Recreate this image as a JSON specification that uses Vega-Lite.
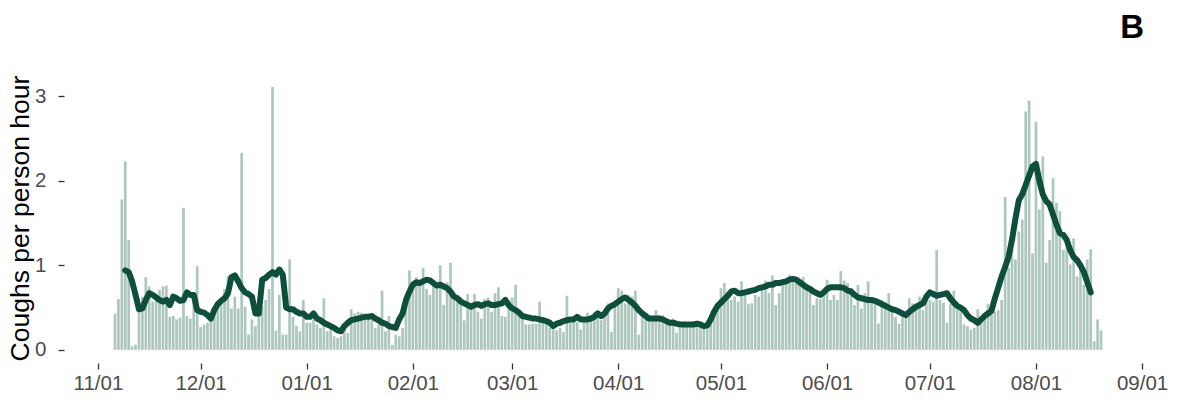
{
  "$schema": "https://vega.github.io/schema/vega-lite/v6.json",
  "autosize": {"type": "none"},
  "width": 1088,
  "height": 290,
  "padding": {"left": 64, "top": 73, "right": 31, "bottom": 39},
  "background": "white",
  "config": {
    "view": {"stroke": null},
    "font": "Liberation Sans",
    "scale": {"continuousPadding": 0}
  },
  "title": {
    "text": "B",
    "anchor": "end",
    "frame": "group",
    "font": "Liberation Sans",
    "fontSize": 33,
    "fontWeight": "bold",
    "color": "#000000",
    "baseline": "alphabetic",
    "offset": 35,
    "dx": -8,
    "dy": 33
  },
  "data": {
    "values": [
      {"date": "2019-11-06", "coughs": 0.43},
      {"date": "2019-11-07", "coughs": 0.60},
      {"date": "2019-11-08", "coughs": 1.78},
      {"date": "2019-11-09", "coughs": 2.23, "avg": 0.94},
      {"date": "2019-11-10", "coughs": 1.30, "avg": 0.92},
      {"date": "2019-11-11", "coughs": 0.04, "avg": 0.81},
      {"date": "2019-11-12", "coughs": 0.06, "avg": 0.65},
      {"date": "2019-11-13", "coughs": 0.47, "avg": 0.48},
      {"date": "2019-11-14", "coughs": 0.63, "avg": 0.49},
      {"date": "2019-11-15", "coughs": 0.86, "avg": 0.59},
      {"date": "2019-11-16", "coughs": 0.75, "avg": 0.67},
      {"date": "2019-11-17", "coughs": 0.57, "avg": 0.65},
      {"date": "2019-11-18", "coughs": 0.64, "avg": 0.62},
      {"date": "2019-11-19", "coughs": 0.71, "avg": 0.59},
      {"date": "2019-11-20", "coughs": 0.75, "avg": 0.57},
      {"date": "2019-11-21", "coughs": 0.76, "avg": 0.59},
      {"date": "2019-11-22", "coughs": 0.39, "avg": 0.53},
      {"date": "2019-11-23", "coughs": 0.40, "avg": 0.63},
      {"date": "2019-11-24", "coughs": 0.36, "avg": 0.61},
      {"date": "2019-11-25", "coughs": 0.38, "avg": 0.58},
      {"date": "2019-11-26", "coughs": 1.68, "avg": 0.59},
      {"date": "2019-11-27", "coughs": 0.40, "avg": 0.68},
      {"date": "2019-11-28", "coughs": 0.37, "avg": 0.65},
      {"date": "2019-11-29", "coughs": 0.60, "avg": 0.65},
      {"date": "2019-11-30", "coughs": 0.99, "avg": 0.47},
      {"date": "2019-12-01", "coughs": 0.27, "avg": 0.45},
      {"date": "2019-12-02", "coughs": 0.30, "avg": 0.44},
      {"date": "2019-12-03", "coughs": 0.32, "avg": 0.41},
      {"date": "2019-12-04", "coughs": 0.38, "avg": 0.37},
      {"date": "2019-12-05", "coughs": 0.45, "avg": 0.47},
      {"date": "2019-12-06", "coughs": 0.50, "avg": 0.54},
      {"date": "2019-12-07", "coughs": 0.58, "avg": 0.58},
      {"date": "2019-12-08", "coughs": 0.72, "avg": 0.61},
      {"date": "2019-12-09", "coughs": 0.87, "avg": 0.67},
      {"date": "2019-12-10", "coughs": 0.49, "avg": 0.86},
      {"date": "2019-12-11", "coughs": 0.63, "avg": 0.88},
      {"date": "2019-12-12", "coughs": 0.49, "avg": 0.81},
      {"date": "2019-12-13", "coughs": 2.33, "avg": 0.73},
      {"date": "2019-12-14", "coughs": 0.51, "avg": 0.68},
      {"date": "2019-12-15", "coughs": 0.18, "avg": 0.66},
      {"date": "2019-12-16", "coughs": 0.36, "avg": 0.63},
      {"date": "2019-12-17", "coughs": 0.28, "avg": 0.43},
      {"date": "2019-12-18", "coughs": 0.47, "avg": 0.43},
      {"date": "2019-12-19", "coughs": 0.51, "avg": 0.83},
      {"date": "2019-12-20", "coughs": 0.59, "avg": 0.85},
      {"date": "2019-12-21", "coughs": 0.72, "avg": 0.89},
      {"date": "2019-12-22", "coughs": 3.11, "avg": 0.92},
      {"date": "2019-12-23", "coughs": 0.23, "avg": 0.89},
      {"date": "2019-12-24", "coughs": 0.65, "avg": 0.95},
      {"date": "2019-12-25", "coughs": 0.18, "avg": 0.89},
      {"date": "2019-12-26", "coughs": 0.18, "avg": 0.50},
      {"date": "2019-12-27", "coughs": 1.07, "avg": 0.48},
      {"date": "2019-12-28", "coughs": 0.39, "avg": 0.48},
      {"date": "2019-12-29", "coughs": 0.28, "avg": 0.45},
      {"date": "2019-12-30", "coughs": 0.22, "avg": 0.43},
      {"date": "2019-12-31", "coughs": 0.59, "avg": 0.43},
      {"date": "2020-01-01", "coughs": 0.32, "avg": 0.39},
      {"date": "2020-01-02", "coughs": 0.32, "avg": 0.39},
      {"date": "2020-01-03", "coughs": 0.36, "avg": 0.43},
      {"date": "2020-01-04", "coughs": 0.30, "avg": 0.37},
      {"date": "2020-01-05", "coughs": 0.26, "avg": 0.35},
      {"date": "2020-01-06", "coughs": 0.61, "avg": 0.32},
      {"date": "2020-01-07", "coughs": 0.22, "avg": 0.30},
      {"date": "2020-01-08", "coughs": 0.26, "avg": 0.28},
      {"date": "2020-01-09", "coughs": 0.16, "avg": 0.26},
      {"date": "2020-01-10", "coughs": 0.14, "avg": 0.23},
      {"date": "2020-01-11", "coughs": 0.16, "avg": 0.22},
      {"date": "2020-01-12", "coughs": 0.26, "avg": 0.28},
      {"date": "2020-01-13", "coughs": 0.20, "avg": 0.32},
      {"date": "2020-01-14", "coughs": 0.48, "avg": 0.35},
      {"date": "2020-01-15", "coughs": 0.43, "avg": 0.36},
      {"date": "2020-01-16", "coughs": 0.45, "avg": 0.37},
      {"date": "2020-01-17", "coughs": 0.44, "avg": 0.38},
      {"date": "2020-01-18", "coughs": 0.41, "avg": 0.39},
      {"date": "2020-01-19", "coughs": 0.39, "avg": 0.39},
      {"date": "2020-01-20", "coughs": 0.35, "avg": 0.40},
      {"date": "2020-01-21", "coughs": 0.26, "avg": 0.37},
      {"date": "2020-01-22", "coughs": 0.30, "avg": 0.35},
      {"date": "2020-01-23", "coughs": 0.70, "avg": 0.32},
      {"date": "2020-01-24", "coughs": 0.22, "avg": 0.31},
      {"date": "2020-01-25", "coughs": 0.40, "avg": 0.28},
      {"date": "2020-01-26", "coughs": 0.06, "avg": 0.27},
      {"date": "2020-01-27", "coughs": 0.18, "avg": 0.26},
      {"date": "2020-01-28", "coughs": 0.16, "avg": 0.36},
      {"date": "2020-01-29", "coughs": 0.26, "avg": 0.43},
      {"date": "2020-01-30", "coughs": 0.53, "avg": 0.59},
      {"date": "2020-01-31", "coughs": 0.94, "avg": 0.69},
      {"date": "2020-02-01", "coughs": 0.75, "avg": 0.77},
      {"date": "2020-02-02", "coughs": 0.86, "avg": 0.80},
      {"date": "2020-02-03", "coughs": 0.80, "avg": 0.79},
      {"date": "2020-02-04", "coughs": 0.97, "avg": 0.81},
      {"date": "2020-02-05", "coughs": 0.72, "avg": 0.83},
      {"date": "2020-02-06", "coughs": 0.65, "avg": 0.82},
      {"date": "2020-02-07", "coughs": 0.83, "avg": 0.79},
      {"date": "2020-02-08", "coughs": 0.78, "avg": 0.76},
      {"date": "2020-02-09", "coughs": 1.00, "avg": 0.77},
      {"date": "2020-02-10", "coughs": 0.53, "avg": 0.75},
      {"date": "2020-02-11", "coughs": 0.80, "avg": 0.73},
      {"date": "2020-02-12", "coughs": 1.03, "avg": 0.69},
      {"date": "2020-02-13", "coughs": 0.59, "avg": 0.63},
      {"date": "2020-02-14", "coughs": 0.60, "avg": 0.61},
      {"date": "2020-02-15", "coughs": 0.62, "avg": 0.57},
      {"date": "2020-02-16", "coughs": 0.35, "avg": 0.55},
      {"date": "2020-02-17", "coughs": 0.66, "avg": 0.53},
      {"date": "2020-02-18", "coughs": 0.55, "avg": 0.51},
      {"date": "2020-02-19", "coughs": 0.66, "avg": 0.53},
      {"date": "2020-02-20", "coughs": 0.45, "avg": 0.54},
      {"date": "2020-02-21", "coughs": 0.37, "avg": 0.52},
      {"date": "2020-02-22", "coughs": 0.60, "avg": 0.54},
      {"date": "2020-02-23", "coughs": 0.62, "avg": 0.55},
      {"date": "2020-02-24", "coughs": 0.45, "avg": 0.53},
      {"date": "2020-02-25", "coughs": 0.67, "avg": 0.53},
      {"date": "2020-02-26", "coughs": 0.74, "avg": 0.54},
      {"date": "2020-02-27", "coughs": 0.40, "avg": 0.55},
      {"date": "2020-02-28", "coughs": 0.39, "avg": 0.59},
      {"date": "2020-02-29", "coughs": 0.58, "avg": 0.53},
      {"date": "2020-03-01", "coughs": 0.62, "avg": 0.49},
      {"date": "2020-03-02", "coughs": 0.77, "avg": 0.47},
      {"date": "2020-03-03", "coughs": 0.47, "avg": 0.44},
      {"date": "2020-03-04", "coughs": 0.43, "avg": 0.40},
      {"date": "2020-03-05", "coughs": 0.30, "avg": 0.39},
      {"date": "2020-03-06", "coughs": 0.30, "avg": 0.38},
      {"date": "2020-03-07", "coughs": 0.31, "avg": 0.37},
      {"date": "2020-03-08", "coughs": 0.31, "avg": 0.37},
      {"date": "2020-03-09", "coughs": 0.57, "avg": 0.36},
      {"date": "2020-03-10", "coughs": 0.31, "avg": 0.35},
      {"date": "2020-03-11", "coughs": 0.32, "avg": 0.34},
      {"date": "2020-03-12", "coughs": 0.26, "avg": 0.32},
      {"date": "2020-03-13", "coughs": 0.24, "avg": 0.28},
      {"date": "2020-03-14", "coughs": 0.23, "avg": 0.31},
      {"date": "2020-03-15", "coughs": 0.26, "avg": 0.32},
      {"date": "2020-03-16", "coughs": 0.21, "avg": 0.34},
      {"date": "2020-03-17", "coughs": 0.64, "avg": 0.35},
      {"date": "2020-03-18", "coughs": 0.32, "avg": 0.36},
      {"date": "2020-03-19", "coughs": 0.35, "avg": 0.36},
      {"date": "2020-03-20", "coughs": 0.33, "avg": 0.39},
      {"date": "2020-03-21", "coughs": 0.24, "avg": 0.36},
      {"date": "2020-03-22", "coughs": 0.37, "avg": 0.36},
      {"date": "2020-03-23", "coughs": 0.44, "avg": 0.36},
      {"date": "2020-03-24", "coughs": 0.40, "avg": 0.37},
      {"date": "2020-03-25", "coughs": 0.45, "avg": 0.39},
      {"date": "2020-03-26", "coughs": 0.41, "avg": 0.43},
      {"date": "2020-03-27", "coughs": 0.35, "avg": 0.40},
      {"date": "2020-03-28", "coughs": 0.47, "avg": 0.43},
      {"date": "2020-03-29", "coughs": 0.55, "avg": 0.49},
      {"date": "2020-03-30", "coughs": 0.21, "avg": 0.52},
      {"date": "2020-03-31", "coughs": 0.51, "avg": 0.54},
      {"date": "2020-04-01", "coughs": 0.73, "avg": 0.57},
      {"date": "2020-04-02", "coughs": 0.70, "avg": 0.60},
      {"date": "2020-04-03", "coughs": 0.55, "avg": 0.62},
      {"date": "2020-04-04", "coughs": 0.65, "avg": 0.59},
      {"date": "2020-04-05", "coughs": 0.63, "avg": 0.56},
      {"date": "2020-04-06", "coughs": 0.70, "avg": 0.52},
      {"date": "2020-04-07", "coughs": 0.18, "avg": 0.47},
      {"date": "2020-04-08", "coughs": 0.41, "avg": 0.43},
      {"date": "2020-04-09", "coughs": 0.39, "avg": 0.40},
      {"date": "2020-04-10", "coughs": 0.37, "avg": 0.37},
      {"date": "2020-04-11", "coughs": 0.39, "avg": 0.37},
      {"date": "2020-04-12", "coughs": 0.47, "avg": 0.37},
      {"date": "2020-04-13", "coughs": 0.41, "avg": 0.37},
      {"date": "2020-04-14", "coughs": 0.41, "avg": 0.36},
      {"date": "2020-04-15", "coughs": 0.34, "avg": 0.34},
      {"date": "2020-04-16", "coughs": 0.32, "avg": 0.32},
      {"date": "2020-04-17", "coughs": 0.37, "avg": 0.32},
      {"date": "2020-04-18", "coughs": 0.20, "avg": 0.31},
      {"date": "2020-04-19", "coughs": 0.26, "avg": 0.30},
      {"date": "2020-04-20", "coughs": 0.28, "avg": 0.30},
      {"date": "2020-04-21", "coughs": 0.32, "avg": 0.30},
      {"date": "2020-04-22", "coughs": 0.30, "avg": 0.30},
      {"date": "2020-04-23", "coughs": 0.32, "avg": 0.30},
      {"date": "2020-04-24", "coughs": 0.30, "avg": 0.31},
      {"date": "2020-04-25", "coughs": 0.28, "avg": 0.30},
      {"date": "2020-04-26", "coughs": 0.26, "avg": 0.28},
      {"date": "2020-04-27", "coughs": 0.26, "avg": 0.29},
      {"date": "2020-04-28", "coughs": 0.32, "avg": 0.36},
      {"date": "2020-04-29", "coughs": 0.47, "avg": 0.45},
      {"date": "2020-04-30", "coughs": 0.55, "avg": 0.52},
      {"date": "2020-05-01", "coughs": 0.73, "avg": 0.56},
      {"date": "2020-05-02", "coughs": 0.79, "avg": 0.60},
      {"date": "2020-05-03", "coughs": 0.69, "avg": 0.64},
      {"date": "2020-05-04", "coughs": 0.59, "avg": 0.69},
      {"date": "2020-05-05", "coughs": 0.63, "avg": 0.70},
      {"date": "2020-05-06", "coughs": 0.57, "avg": 0.67},
      {"date": "2020-05-07", "coughs": 0.81, "avg": 0.67},
      {"date": "2020-05-08", "coughs": 0.71, "avg": 0.68},
      {"date": "2020-05-09", "coughs": 0.54, "avg": 0.69},
      {"date": "2020-05-10", "coughs": 0.55, "avg": 0.70},
      {"date": "2020-05-11", "coughs": 0.65, "avg": 0.71},
      {"date": "2020-05-12", "coughs": 0.63, "avg": 0.73},
      {"date": "2020-05-13", "coughs": 0.74, "avg": 0.74},
      {"date": "2020-05-14", "coughs": 0.82, "avg": 0.75},
      {"date": "2020-05-15", "coughs": 0.67, "avg": 0.77},
      {"date": "2020-05-16", "coughs": 0.88, "avg": 0.77},
      {"date": "2020-05-17", "coughs": 0.53, "avg": 0.79},
      {"date": "2020-05-18", "coughs": 0.67, "avg": 0.79},
      {"date": "2020-05-19", "coughs": 0.76, "avg": 0.80},
      {"date": "2020-05-20", "coughs": 0.79, "avg": 0.81},
      {"date": "2020-05-21", "coughs": 0.89, "avg": 0.83},
      {"date": "2020-05-22", "coughs": 0.83, "avg": 0.84},
      {"date": "2020-05-23", "coughs": 0.81, "avg": 0.83},
      {"date": "2020-05-24", "coughs": 0.80, "avg": 0.80},
      {"date": "2020-05-25", "coughs": 0.86, "avg": 0.77},
      {"date": "2020-05-26", "coughs": 0.77, "avg": 0.74},
      {"date": "2020-05-27", "coughs": 0.74, "avg": 0.72},
      {"date": "2020-05-28", "coughs": 0.53, "avg": 0.69},
      {"date": "2020-05-29", "coughs": 0.61, "avg": 0.67},
      {"date": "2020-05-30", "coughs": 0.60, "avg": 0.65},
      {"date": "2020-05-31", "coughs": 0.65, "avg": 0.68},
      {"date": "2020-06-01", "coughs": 0.83, "avg": 0.72},
      {"date": "2020-06-02", "coughs": 0.59, "avg": 0.74},
      {"date": "2020-06-03", "coughs": 0.65, "avg": 0.74},
      {"date": "2020-06-04", "coughs": 0.59, "avg": 0.74},
      {"date": "2020-06-05", "coughs": 0.93, "avg": 0.74},
      {"date": "2020-06-06", "coughs": 0.82, "avg": 0.73},
      {"date": "2020-06-07", "coughs": 0.79, "avg": 0.70},
      {"date": "2020-06-08", "coughs": 0.73, "avg": 0.69},
      {"date": "2020-06-09", "coughs": 0.53, "avg": 0.65},
      {"date": "2020-06-10", "coughs": 0.77, "avg": 0.62},
      {"date": "2020-06-11", "coughs": 0.49, "avg": 0.61},
      {"date": "2020-06-12", "coughs": 0.67, "avg": 0.60},
      {"date": "2020-06-13", "coughs": 0.81, "avg": 0.59},
      {"date": "2020-06-14", "coughs": 0.59, "avg": 0.59},
      {"date": "2020-06-15", "coughs": 0.61, "avg": 0.58},
      {"date": "2020-06-16", "coughs": 0.31, "avg": 0.56},
      {"date": "2020-06-17", "coughs": 0.59, "avg": 0.54},
      {"date": "2020-06-18", "coughs": 0.57, "avg": 0.52},
      {"date": "2020-06-19", "coughs": 0.67, "avg": 0.50},
      {"date": "2020-06-20", "coughs": 0.47, "avg": 0.48},
      {"date": "2020-06-21", "coughs": 0.39, "avg": 0.47},
      {"date": "2020-06-22", "coughs": 0.31, "avg": 0.45},
      {"date": "2020-06-23", "coughs": 0.41, "avg": 0.43},
      {"date": "2020-06-24", "coughs": 0.41, "avg": 0.41},
      {"date": "2020-06-25", "coughs": 0.61, "avg": 0.45},
      {"date": "2020-06-26", "coughs": 0.55, "avg": 0.48},
      {"date": "2020-06-27", "coughs": 0.55, "avg": 0.51},
      {"date": "2020-06-28", "coughs": 0.63, "avg": 0.53},
      {"date": "2020-06-29", "coughs": 0.47, "avg": 0.55},
      {"date": "2020-06-30", "coughs": 0.67, "avg": 0.63},
      {"date": "2020-07-01", "coughs": 0.59, "avg": 0.68},
      {"date": "2020-07-02", "coughs": 0.57, "avg": 0.66},
      {"date": "2020-07-03", "coughs": 1.18, "avg": 0.64},
      {"date": "2020-07-04", "coughs": 0.59, "avg": 0.65},
      {"date": "2020-07-05", "coughs": 0.56, "avg": 0.66},
      {"date": "2020-07-06", "coughs": 0.32, "avg": 0.67},
      {"date": "2020-07-07", "coughs": 0.54, "avg": 0.61},
      {"date": "2020-07-08", "coughs": 0.70, "avg": 0.56},
      {"date": "2020-07-09", "coughs": 0.51, "avg": 0.52},
      {"date": "2020-07-10", "coughs": 0.47, "avg": 0.50},
      {"date": "2020-07-11", "coughs": 0.30, "avg": 0.47},
      {"date": "2020-07-12", "coughs": 0.28, "avg": 0.41},
      {"date": "2020-07-13", "coughs": 0.24, "avg": 0.37},
      {"date": "2020-07-14", "coughs": 0.26, "avg": 0.35},
      {"date": "2020-07-15", "coughs": 0.48, "avg": 0.32},
      {"date": "2020-07-16", "coughs": 0.34, "avg": 0.36},
      {"date": "2020-07-17", "coughs": 0.39, "avg": 0.40},
      {"date": "2020-07-18", "coughs": 0.54, "avg": 0.43},
      {"date": "2020-07-19", "coughs": 0.42, "avg": 0.46},
      {"date": "2020-07-20", "coughs": 0.45, "avg": 0.61},
      {"date": "2020-07-21", "coughs": 0.47, "avg": 0.74},
      {"date": "2020-07-22", "coughs": 0.59, "avg": 0.87},
      {"date": "2020-07-23", "coughs": 1.81, "avg": 0.98},
      {"date": "2020-07-24", "coughs": 0.97, "avg": 1.10},
      {"date": "2020-07-25", "coughs": 1.20, "avg": 1.30},
      {"date": "2020-07-26", "coughs": 1.07, "avg": 1.55},
      {"date": "2020-07-27", "coughs": 1.40, "avg": 1.77},
      {"date": "2020-07-28", "coughs": 1.54, "avg": 1.84},
      {"date": "2020-07-29", "coughs": 2.82, "avg": 1.95},
      {"date": "2020-07-30", "coughs": 2.95, "avg": 2.06},
      {"date": "2020-07-31", "coughs": 1.14, "avg": 2.17},
      {"date": "2020-08-01", "coughs": 2.70, "avg": 2.20},
      {"date": "2020-08-02", "coughs": 1.66, "avg": 2.00},
      {"date": "2020-08-03", "coughs": 2.29, "avg": 1.84},
      {"date": "2020-08-04", "coughs": 1.03, "avg": 1.76},
      {"date": "2020-08-05", "coughs": 1.30, "avg": 1.72},
      {"date": "2020-08-06", "coughs": 2.03, "avg": 1.60},
      {"date": "2020-08-07", "coughs": 1.74, "avg": 1.48},
      {"date": "2020-08-08", "coughs": 1.64, "avg": 1.38},
      {"date": "2020-08-09", "coughs": 1.18, "avg": 1.36},
      {"date": "2020-08-10", "coughs": 1.32, "avg": 1.30},
      {"date": "2020-08-11", "coughs": 1.01, "avg": 1.18},
      {"date": "2020-08-12", "coughs": 1.32, "avg": 1.10},
      {"date": "2020-08-13", "coughs": 0.87, "avg": 1.06},
      {"date": "2020-08-14", "coughs": 0.97, "avg": 1.00},
      {"date": "2020-08-15", "coughs": 0.77, "avg": 0.92},
      {"date": "2020-08-16", "coughs": 1.07, "avg": 0.80},
      {"date": "2020-08-17", "coughs": 1.19, "avg": 0.68},
      {"date": "2020-08-18", "coughs": 0.10},
      {"date": "2020-08-19", "coughs": 0.36},
      {"date": "2020-08-20", "coughs": 0.23}
    ]
  },
  "encoding": {
    "x": {
      "field": "date",
      "type": "temporal",
      "scale": {"type": "utc", "domain": [1571711040000, 1599168960000], "padding": 0},
      "axis": {
        "title": null,
        "values": [
          {"year": 2019, "month": 11, "date": 1, "utc": true},
          {"year": 2019, "month": 12, "date": 1, "utc": true},
          {"year": 2020, "month": 1, "date": 1, "utc": true},
          {"year": 2020, "month": 2, "date": 1, "utc": true},
          {"year": 2020, "month": 3, "date": 1, "utc": true},
          {"year": 2020, "month": 4, "date": 1, "utc": true},
          {"year": 2020, "month": 5, "date": 1, "utc": true},
          {"year": 2020, "month": 6, "date": 1, "utc": true},
          {"year": 2020, "month": 7, "date": 1, "utc": true},
          {"year": 2020, "month": 8, "date": 1, "utc": true},
          {"year": 2020, "month": 9, "date": 1, "utc": true}
        ],
        "labelExpr": "utcFormat(datum.value, '%m/%d')",
        "domain": false,
        "grid": false,
        "ticks": true,
        "tickSize": 6,
        "tickWidth": 1.3,
        "tickColor": "#333333",
        "labelFontSize": 20.5,
        "labelColor": "#4d4d4d",
        "labelPadding": 4,
        "labelFlush": false,
        "labelOverlap": false
      }
    }
  },
  "layer": [
    {
      "mark": {"type": "bar", "size": 2.7, "color": "#aec7bc"},
      "encoding": {
        "y": {
          "field": "coughs",
          "type": "quantitative",
          "scale": {"domain": [-0.156, 3.276], "nice": false, "zero": false, "padding": 0},
          "axis": {
            "title": "Coughs per person hour",
            "titleFontSize": 26.5,
            "titleFontWeight": "normal",
            "titleColor": "#000000",
            "titleX": -30,
            "titleBaseline": "bottom",
            "values": [0, 1, 2, 3],
            "format": "d",
            "domain": false,
            "grid": false,
            "tickSize": 6,
            "tickWidth": 1.3,
            "tickColor": "#333333",
            "labelFontSize": 20.5,
            "labelColor": "#4d4d4d",
            "labelPadding": 12
          }
        },
        "y2": {"datum": 0}
      }
    },
    {
      "mark": {"type": "line", "color": "#0d4f3c", "strokeWidth": 6, "strokeCap": "round", "strokeJoin": "round"},
      "encoding": {
        "y": {"field": "avg", "type": "quantitative"}
      }
    }
  ]
}
